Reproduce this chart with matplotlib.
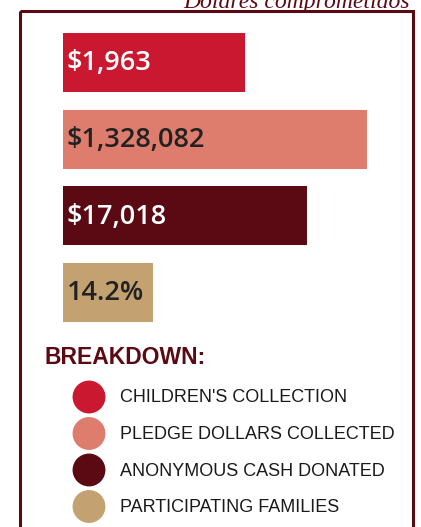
import matplotlib.pyplot as plt
from matplotlib.patches import Rectangle

# datos del gráfico
labels = ["$1,963", "$1,328,082", "$17,018", "14.2%"]
bar_lengths = [182, 304, 244, 90]
categories = ["CHILDREN'S COLLECTION", "PLEDGE DOLLARS COLLECTED",
              "ANONYMOUS CASH DONATED", "PARTICIPATING FAMILIES"]
colors = ["#C9182F", "#DE7C6E", "#5B0A13", "#C3A170"]
text_colors = ["white", "#222222", "white", "#222222"]
title = "Dolares comprometidos"
heading = "BREAKDOWN:"

W, H = 421, 527
fig = plt.figure(figsize=(W / 100, H / 100), dpi=100)
ax = fig.add_axes([0, 0, 1, 1])
ax.set_xlim(0, W)
ax.set_ylim(H, 0)
ax.axis("off")

maroon = "#5B0A13"
narrow = ["Liberation Sans", "DejaVu Sans"]

# marco (el título queda cortado arriba, como en el original)
ax.add_patch(Rectangle((20, 11), 393, 540, fill=False, edgecolor=maroon, lw=2.2))
ax.text(410, 8, title, ha="right", va="baseline", fontsize=17, style="italic",
        family="Liberation Serif", color=maroon)

# barras
y_pos = [62.5 + i * 76.5 for i in range(len(labels))]
ax.barh(y_pos, bar_lengths, left=63, height=59, color=colors)
for y, lab, tc in zip(y_pos, labels, text_colors):
    ax.text(67, y + 1, lab, ha="left", va="center", fontsize=19.5,
            fontweight="semibold", family="Open Sans", color=tc)

# leyenda
ax.text(45, 357, heading, ha="left", va="center", fontsize=16.5,
        fontweight="bold", family=narrow, color=maroon)
leg_y = [397 + i * 36.5 for i in range(len(categories))]
ax.scatter([89] * len(categories), leg_y, s=560, color=colors, linewidths=0)
for y, cat in zip(leg_y, categories):
    ax.text(120, y + 1, cat, ha="left", va="center", fontsize=13,
            family=narrow, color="#1a1a1a")

fig.savefig("out.png", dpi=100)
